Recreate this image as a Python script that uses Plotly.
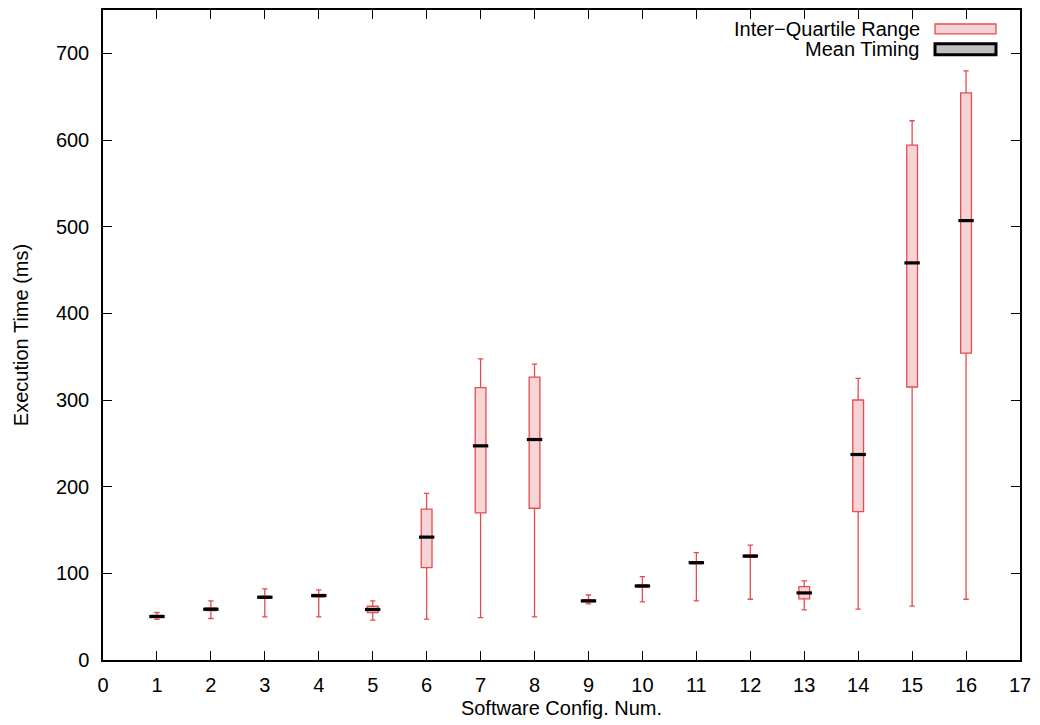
import plotly.graph_objects as go

configs = list(range(1, 17))
whisker_low = [46.8, 47.9, 49.8, 49.8, 46.0, 47.1, 49.0, 49.8, 64.7, 67.0, 68.2, 70.1, 57.8, 58.7, 62.2, 70.1]
q1 = [48.8, 57.0, 71.0, 73.0, 54.8, 106.5, 169.7, 175.1, 67.0, 84.0, 111.0, 118.5, 70.5, 171.2, 315.0, 354.0]
mean_t = [50.2, 58.6, 72.4, 74.3, 58.3, 141.8, 247.1, 254.4, 68.2, 85.4, 112.3, 119.9, 77.4, 237.1, 458.2, 507.0]
q3 = [51.5, 60.0, 73.8, 75.6, 62.0, 174.0, 314.2, 326.4, 69.5, 86.8, 113.6, 121.2, 84.7, 300.0, 594.1, 654.3]
whisker_high = [54.8, 68.2, 82.0, 80.8, 68.2, 192.3, 347.5, 341.4, 75.0, 96.2, 124.0, 132.6, 91.2, 325.0, 622.2, 679.8]

x_ticks = list(range(0, 18))
y_ticks = list(range(0, 701, 100))

RED = "rgb(228,76,80)"
PINK = "rgb(246,212,213)"
FONT = "Liberation Sans, Arial, sans-serif"
FS = 20

fig = go.Figure()
fig.add_trace(go.Box(
    x=configs, q1=q1, median=mean_t, q3=q3,
    lowerfence=whisker_low, upperfence=whisker_high,
    width=0.2, whiskerwidth=0.5,
    line=dict(color=RED, width=1.3), fillcolor=PINK,
    boxpoints=False, name="Inter\u2212Quartile Range", showlegend=False,
))
fig.add_trace(go.Scatter(
    x=configs, y=mean_t, mode="markers", name="Mean Timing", showlegend=False,
    marker=dict(symbol="line-ew", size=11, color="black",
                line=dict(color="black", width=3.2)),
))

axis_common = dict(
    showgrid=False, zeroline=False, showline=True, linecolor="black", linewidth=1.5,
    mirror="ticks", ticks="inside", ticklen=9, tickwidth=1.2, tickcolor="black",
    tickfont=dict(family=FONT, size=FS, color="black"),
)
fig.update_xaxes(range=[0, 17], tickvals=x_ticks, ticktext=[str(v) for v in x_ticks],
                 ticklabelstandoff=6,
                 title=dict(text="Software Config. Num.", font=dict(family=FONT, size=FS, color="black"), standoff=6),
                 **axis_common)
fig.update_yaxes(range=[0, 750], tickvals=y_ticks, ticktext=[str(v) for v in y_ticks],
                 ticklabelstandoff=8,
                 title=dict(text="Execution Time (ms)", font=dict(family=FONT, size=FS, color="black"), standoff=22),
                 **axis_common)

# legend (gnuplot style: text left, swatch right)
fig.add_annotation(xref="paper", yref="paper", x=0.8931, y=0.9709, xanchor="right", yanchor="middle",
                   text="Inter\u2212Quartile Range", showarrow=False,
                   font=dict(family=FONT, size=FS, color="black"))
fig.add_annotation(xref="paper", yref="paper", x=0.8931, y=0.9402, xanchor="right", yanchor="middle",
                   text="Mean Timing", showarrow=False,
                   font=dict(family=FONT, size=FS, color="black"))
fig.add_shape(type="rect", xref="paper", yref="paper", x0=0.9073, x1=0.9738, y0=0.9632, y1=0.9785,
              line=dict(color=RED, width=1.3), fillcolor=PINK)
fig.add_shape(type="rect", xref="paper", yref="paper", x0=0.9073, x1=0.9738, y0=0.9310, y1=0.9479,
              line=dict(color="black", width=3), fillcolor="rgb(190,190,190)")

fig.update_layout(
    width=1040, height=725,
    margin=dict(l=103, r=20, t=8, b=65),
    plot_bgcolor="white", paper_bgcolor="white",
    font=dict(family=FONT, size=FS, color="black"),
    showlegend=False,
)
fig.write_html("out.html")
